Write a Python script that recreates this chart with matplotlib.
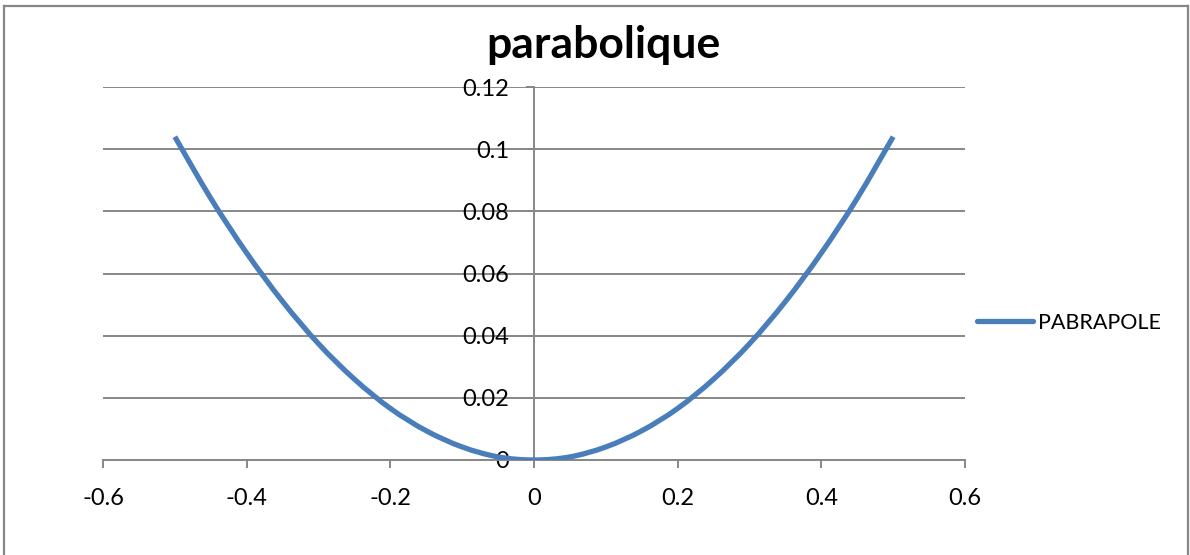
import matplotlib
matplotlib.use("Agg")
import matplotlib.pyplot as plt
from matplotlib.lines import Line2D
from matplotlib.path import Path
from matplotlib.patches import PathPatch

# values
x = [-0.5, -0.45, -0.4, -0.35, -0.3, -0.25, -0.2, -0.15, -0.1, -0.05, 0.0,
     0.05, 0.1, 0.15, 0.2, 0.25, 0.3, 0.35, 0.4, 0.45, 0.5]
y = [0.104, 0.0842, 0.0666, 0.051, 0.0374, 0.026, 0.0166, 0.0094, 0.0042, 0.001, 0.0,
     0.001, 0.0042, 0.0094, 0.0166, 0.026, 0.0374, 0.051, 0.0666, 0.0842, 0.104]
xticks = [-0.6, -0.4, -0.2, 0, 0.2, 0.4, 0.6]
xlabels = ["-0.6", "-0.4", "-0.2", "0", "0.2", "0.4", "0.6"]
yticks = [0, 0.02, 0.04, 0.06, 0.08, 0.1, 0.12]
ylabels = ["0", "0.02", "0.04", "0.06", "0.08", "0.1", "0.12"]
title = "parabolique"
series_name = "PABRAPOLE"

plt.rcParams['font.family'] = ['Lato', 'DejaVu Sans']
grey = "#878787"
blue = "#4A7EBB"


def smooth_path(px, py):
    # Excel style smoothed line: bezier segments through the points
    verts = [(px[0], py[0])]
    codes = [Path.MOVETO]
    n = len(px)
    for i in range(n - 1):
        p0 = (px[max(i - 1, 0)], py[max(i - 1, 0)])
        p1 = (px[i], py[i])
        p2 = (px[i + 1], py[i + 1])
        p3 = (px[min(i + 2, n - 1)], py[min(i + 2, n - 1)])
        c1 = (p1[0] + (p2[0] - p0[0]) / 6, p1[1] + (p2[1] - p0[1]) / 6)
        c2 = (p2[0] - (p3[0] - p1[0]) / 6, p2[1] - (p3[1] - p1[1]) / 6)
        verts += [c1, c2, p2]
        codes += [Path.CURVE4] * 3
    return Path(verts, codes)


fig = plt.figure(figsize=(11.9, 5.55), dpi=100)
ax = fig.add_axes([103/1190, 1-460/555, (965-103)/1190, (460-87)/555])

ax.add_patch(PathPatch(smooth_path(x, y), facecolor='none', edgecolor=blue,
                       lw=3.8, capstyle='butt', zorder=3))

ax.set_xlim(-0.6, 0.6)
ax.set_ylim(0, 0.12)
ax.set_xticks(xticks)
ax.set_xticklabels(xlabels)
ax.set_yticks(yticks)
ax.set_yticklabels(ylabels)

for s in ["top", "right"]:
    ax.spines[s].set_visible(False)
ax.spines["left"].set_position(("data", 0))
ax.spines["left"].set_color(grey)
ax.spines["left"].set_linewidth(1.4)
ax.spines["bottom"].set_color(grey)
ax.spines["bottom"].set_linewidth(1.4)

ax.yaxis.grid(True, color=grey, lw=1.4)
ax.set_axisbelow(True)
ax.tick_params(axis='x', direction='out', length=6, width=1.4, color=grey,
               labelsize=17, pad=14)
ax.tick_params(axis='y', direction='out', length=6, width=1.4, color=grey,
               labelsize=17, pad=12)

fig.text(0.507, 1-45/555, title, ha='center', va='center', fontsize=32, fontweight='bold')

fig.legend(handles=[Line2D([0], [0], color=blue, lw=3.8, solid_capstyle='round')],
           labels=[series_name], loc='center left',
           bbox_to_anchor=(958/1190, 1-323/555), frameon=False, fontsize=15.5,
           handlelength=2.6, handletextpad=0.2)

# chart area border
for xs, ys in [([4/1190, 4/1190], [0, 1-6/555]),
               ([4/1190, 1188/1190], [1-6/555, 1-6/555]),
               ([1188/1190, 1188/1190], [1-6/555, 0])]:
    fig.add_artist(Line2D(xs, ys, color=grey, lw=1.6))

fig.savefig("out.png", dpi=100)
